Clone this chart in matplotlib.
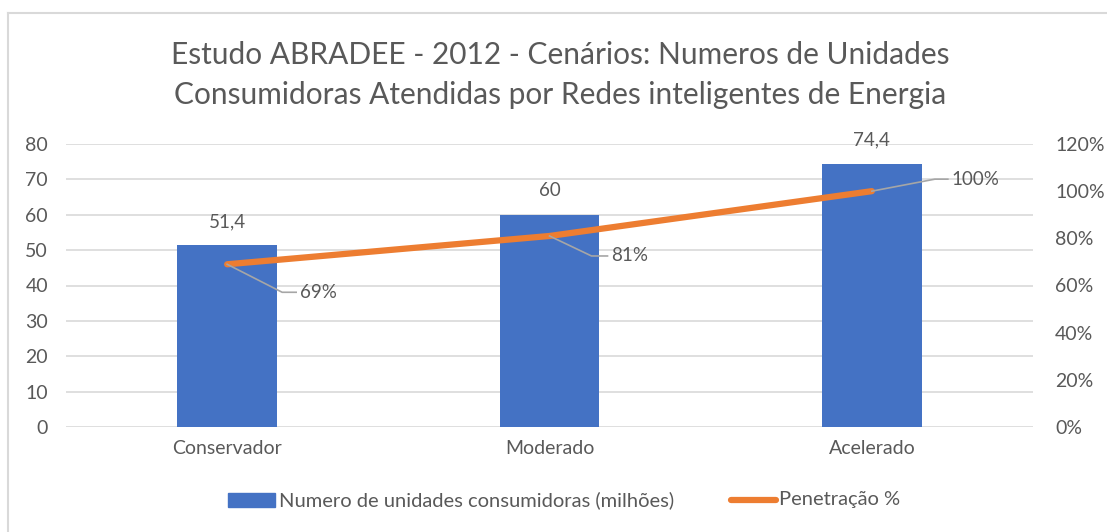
import matplotlib
matplotlib.use("Agg")
import matplotlib.pyplot as plt
from matplotlib.patches import Rectangle
from matplotlib.ticker import FuncFormatter

categories = ["Conservador", "Moderado", "Acelerado"]
units = [51.4, 60, 74.4]
unit_labels = ["51,4", "60", "74,4"]
penetration = [0.69, 0.81, 1.00]
pen_labels = ["69%", "81%", "100%"]
left_ticks = [0, 10, 20, 30, 40, 50, 60, 70, 80]
right_ticks = [0, 0.2, 0.4, 0.6, 0.8, 1.0, 1.2]

plt.rcParams['font.family'] = ['Lato', 'DejaVu Sans']
GRAY = "#595959"
BLUE = "#4472C4"
ORANGE = "#ED7D31"

W, H = 1107, 532
fig = plt.figure(figsize=(W / 100, H / 100), dpi=100)

def fx(px):
    return px / W

def fy(py):
    return 1 - py / H

# outer frame (left + top visible)
fig.add_artist(plt.Line2D([fx(8), fx(8)], [fy(13), 0], color="#D9D9D9", lw=1.5, transform=fig.transFigure))
fig.add_artist(plt.Line2D([fx(8), 1], [fy(13), fy(13)], color="#D9D9D9", lw=1.5, transform=fig.transFigure))

ax = fig.add_axes([fx(66), fy(427), fx(1033) - fx(66), fy(144) - fy(427)])
x = list(range(len(categories)))
ax.bar(x, units, width=0.31, color=BLUE, zorder=2)
ax.set_xlim(-0.5, 2.5)
ax.set_ylim(0, 80)
ax.set_yticks(left_ticks)
ax.grid(axis='y', color="#D9D9D9", lw=1.2, zorder=0)
ax.set_xticks(x)
ax.set_xticklabels(categories)
for s in ax.spines.values():
    s.set_visible(False)
ax.tick_params(axis='both', length=0, colors=GRAY, labelsize=14)
ax.tick_params(axis='y', pad=13)
ax.tick_params(axis='x', pad=9)
for xi, v, lab in zip(x, units, unit_labels):
    ax.annotate(lab, (xi, v), xytext=(0, 11), textcoords='offset points',
                ha='center', va='bottom', fontsize=13.5, color=GRAY)

ax2 = ax.twinx()
ax2.set_ylim(0, 1.2)
ax2.set_yticks(right_ticks)
ax2.yaxis.set_major_formatter(FuncFormatter(lambda v, p: f"{v*100:.0f}%"))
for s in ax2.spines.values():
    s.set_visible(False)
ax2.tick_params(axis='y', length=0, colors=GRAY, labelsize=14, pad=16)
ax2.plot(x, penetration, color=ORANGE, lw=4.5, solid_capstyle='round', zorder=3)

# leader line offsets in pixels: (elbow dx, elbow dy, text dx)
offsets = [(55, -28, 73), (42, -20, 62), (63, 12, 80)]
for xi, v, lab, (ex, ey, tx) in zip(x, penetration, pen_labels, offsets):
    p = ax2.transData.transform((xi, v))
    inv = fig.transFigure.inverted()
    pts = [p, (p[0] + ex, p[1] + ey), (p[0] + tx - 4, p[1] + ey)]
    fp = inv.transform(pts)
    fig.add_artist(plt.Line2D(fp[:, 0], fp[:, 1], color="#A6A6A6", lw=1.2,
                              transform=fig.transFigure, zorder=4))
    t = inv.transform((p[0] + tx, p[1] + ey))
    fig.text(t[0], t[1], lab, ha='left', va='center', fontsize=13.5, color=GRAY)

fig.text(0.506, fy(55), "Estudo ABRADEE - 2012 - Cenários: Numeros de Unidades",
         ha='center', va='center', fontsize=21.5, color=GRAY)
fig.text(0.506, fy(95), "Consumidoras Atendidas por Redes inteligentes de Energia",
         ha='center', va='center', fontsize=21.5, color=GRAY)

# legend
fig.add_artist(Rectangle((fx(228), fy(507)), fx(275) - fx(228), fy(493) - fy(507),
                         color=BLUE, transform=fig.transFigure))
fig.text(fx(279), fy(500), "Numero de unidades consumidoras (milhões)", ha='left', va='center',
         fontsize=14.5, color=GRAY)
fig.add_artist(plt.Line2D([fx(731), fx(776)], [fy(500), fy(500)], color=ORANGE, lw=4.5,
                          solid_capstyle='round', transform=fig.transFigure))
fig.text(fx(779), fy(500), "Penetração %", ha='left', va='center', fontsize=14.5, color=GRAY)

fig.savefig("out.png", dpi=100)
